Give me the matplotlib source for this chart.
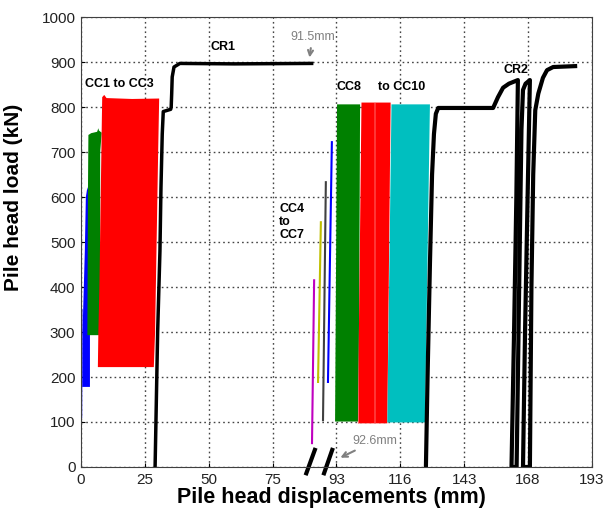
import numpy as np
import matplotlib
matplotlib.use("Agg")
import matplotlib.pyplot as plt

plt.rcParams['font.family'] = ['Liberation Sans', 'DejaVu Sans']
plt.rcParams['hatch.linewidth'] = 0.6

# broken x axis: tick values (mm) drawn at equal spacing
tick_mm = [0, 25, 50, 75, 93, 116, 143, 168, 193]
tick_pos = np.arange(len(tick_mm))
y_ticks = np.arange(0, 1001, 100)

# CR1 monotonic test (black)
cr1_x = [29.0, 29.5, 30.0, 30.9, 31.3, 31.8, 32.2, 35.1, 35.3, 35.5, 35.7, 36.4, 38.7, 60.0, 86.0]
cr1_y = [0, 150, 300, 480, 620, 740, 790, 795, 800, 830, 867, 889, 897, 896, 897]

# CC1 .. CC3 cyclic tests (outline of the dense loops)
cc1_x = [0.5, 3.5, 3.5, 3.3, 2.5, 1.9, 1.5, 0.6, 0.5]
cc1_y = [178, 178, 300, 600, 622, 600, 480, 300, 178]
cc1_line_x = [0.2, 0.3]
cc1_line_y = [110, 350]
cc2_x = [2.5, 7.5, 7.5, 8.1, 7.0, 6.8, 6.3, 4.0, 2.9, 2.7, 2.5]
cc2_y = [293, 293, 700, 743, 748, 753, 745, 742, 738, 600, 293]
cc3_x = [6.6, 28.5, 29.0, 29.6, 30.2, 30.6, 20.0, 10.0, 9.1, 8.3, 8.1, 7.2, 6.8, 6.6]
cc3_y = [222, 222, 300, 500, 700, 819, 818, 820, 827, 822, 750, 400, 300, 222]

# CC4 .. CC7 (thin traces)
cc4_7_x = [[86.1, 86.7], [87.8, 88.6], [89.2, 90.0], [90.6, 91.7]]
cc4_7_y = [[53, 415], [189, 544], [104, 633], [189, 722]]
cc4_7_colors = ['#BF00BF', '#BFBF00', '#404040', '#0000FF']

# CC8 .. CC10
cc8_x = [92.6, 101.0, 101.5, 93.2]
cc8_y = [101, 101, 806, 806]
cc9_x = [100.7, 111.3, 112.5, 102.0]
cc9_y = [97, 97, 810, 810]
cc10_x = [111.3, 126.4, 128.5, 112.8]
cc10_y = [99, 99, 806, 806]

# CR2 (black)
cr2_x = [126.8, 127.5, 128.5, 129.4, 130.2, 131.0, 132.0, 154.3, 156.2, 158.2, 160.5, 164.0,
         163.4, 162.5, 161.5, 163.5, 164.5, 165.4, 166.0, 167.0, 168.7, 167.8, 166.8, 166.0,
         168.7, 169.3, 170.0, 170.8, 172.0, 173.8, 175.4, 177.8, 186.4]
cr2_y = [0, 200, 450, 650, 740, 785, 798, 798, 822, 843, 852, 860,
         600, 300, 0, 0, 400, 750, 838, 852, 860, 600, 300, 0,
         0, 400, 650, 793, 830, 865, 882, 889, 891]


def fwd(x):
    return np.interp(x, tick_mm, tick_pos)


def inv(p):
    return np.interp(p, tick_pos, tick_mm)


fig = plt.figure(figsize=(6.04, 5.13), dpi=100)
ax = fig.add_axes([0.1341, 0.0897, 0.846, 0.877])
ax.set_xscale('function', functions=(fwd, inv))
ax.set_xlim(0, 193)
ax.set_ylim(0, 1000)
ax.set_xticks(tick_mm)
ax.set_xticklabels([str(t) for t in tick_mm])
ax.set_yticks(y_ticks)
ax.grid(True, linestyle=(0, (1.2, 2.2)), color='#444444', linewidth=1.0)
ax.set_axisbelow(True)

# CC1-CC3
ax.plot(cc1_line_x, cc1_line_y, color='#0000FF', lw=1)
ax.fill(cc1_x, cc1_y, color='#0000FF', lw=0)
ax.fill(cc2_x, cc2_y, color='#008000', lw=0)
ax.fill(cc3_x, cc3_y, color='#FF0000', lw=0)

# CR1
ax.plot(cr1_x, cr1_y, color='black', lw=2.5)

# CC4-CC7
for xs, ys, c in zip(cc4_7_x, cc4_7_y, cc4_7_colors):
    ax.plot(xs, ys, color=c, lw=1.5)

# CC8-CC10
ax.fill(cc8_x, cc8_y, color='#008000', lw=0)
ax.fill(cc9_x, cc9_y, facecolor='#FF0000', edgecolor='#FF8080', hatch='|', lw=0)
ax.fill(cc10_x, cc10_y, color='#00BFBF', lw=0)

# CR2
ax.plot(cr2_x, cr2_y, color='black', lw=3, solid_joinstyle='round')

# labels on the curves
ax.text(50.5, 927, 'CR1', fontsize=9, fontweight='bold')
ax.text(1.6, 844, 'CC1 to CC3', fontsize=9, fontweight='bold')
ax.text(76.8, 544, 'CC4\nto\nCC7', fontsize=9, fontweight='bold', va='center', linespacing=1.1)
ax.text(93.1, 838, 'CC8', fontsize=9, fontweight='bold')
ax.text(107.9, 838, 'to CC10', fontsize=9, fontweight='bold')
ax.text(158.2, 876, 'CR2', fontsize=9, fontweight='bold')

ax.annotate('91.5mm', xy=(85.3, 904), xytext=(79.9, 950), fontsize=9, color='#808080',
            arrowprops=dict(arrowstyle='->', color='#808080', lw=1.5))
ax.annotate('92.6mm', xy=(93.5, 18), xytext=(98.9, 52), fontsize=9, color='#808080',
            arrowprops=dict(arrowstyle='->', color='#808080', lw=1.5))

# axis break marks
ax.plot([84.5, 86.9], [-14, 38], color='black', lw=3, clip_on=False)
ax.plot([89.5, 91.8], [-14, 38], color='black', lw=3, clip_on=False)

for s in ax.spines.values():
    s.set_color('#404040')
ax.tick_params(direction='in', labelsize=11, length=3, pad=4, labelcolor='#222222')
ax.set_xlabel('Pile head displacements (mm)', fontsize=15.5, fontweight='bold')
ax.set_ylabel('Pile head load (kN)', fontsize=15, fontweight='bold')
ax.xaxis.set_label_coords(0.491, -0.045)
ax.yaxis.set_label_coords(-0.113, 0.6)

fig.savefig('out.png', dpi=100)
